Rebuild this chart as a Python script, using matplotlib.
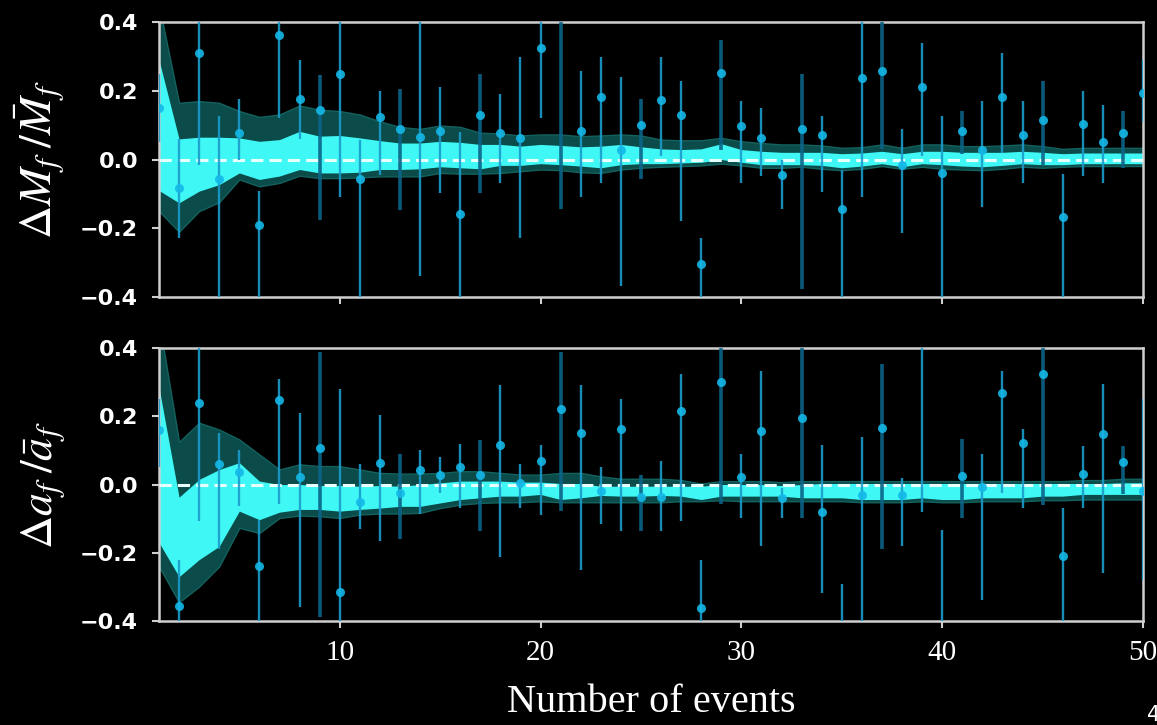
import matplotlib
matplotlib.use("Agg")
import matplotlib.pyplot as plt
import numpy as np

plt.rcParams["mathtext.fontset"] = "stix"

events = np.arange(1, 51)

# final mass: per-event estimate with lower/upper ends of its error bar
mass_val = [0.151, -0.082, 0.310, -0.058, 0.078, -0.189, 0.361, 0.177, 0.143, 0.249,
            -0.056, 0.124, 0.089, 0.066, 0.084, -0.158, 0.129, 0.078, 0.063, 0.325,
            0.420, 0.084, 0.182, 0.027, 0.100, 0.173, 0.131, -0.303, 0.252, 0.099,
            0.063, -0.046, 0.089, 0.070, -0.144, 0.238, 0.259, -0.017, 0.210, -0.039,
            0.082, 0.029, 0.182, 0.070, 0.116, -0.168, 0.102, 0.051, 0.078, 0.194]
mass_hi = [0.250, 0.060, 0.650, 0.128, 0.177, -0.092, 0.600, 0.289, 0.247, 0.600,
           0.058, 0.199, 0.206, 0.500, 0.210, 0.079, 0.249, 0.191, 0.298, 0.550,
           0.700, 0.259, 0.298, 0.240, 0.177, 0.298, 0.228, -0.228, 0.347, 0.170,
           0.150, 0.000, 0.249, 0.128, -0.030, 0.500, 0.500, 0.089, 0.339, 0.128,
           0.141, 0.170, 0.310, 0.170, 0.228, -0.042, 0.199, 0.158, 0.141, 0.291]
mass_lo = [0.050, -0.228, -0.015, -0.450, 0.000, -0.450, 0.121, 0.060, -0.176, -0.110,
           -0.450, -0.046, -0.147, -0.339, -0.097, -0.450, -0.097, -0.068, -0.228, 0.121,
           -0.145, -0.109, -0.068, -0.367, -0.058, 0.010, -0.179, -0.450, 0.029, -0.068,
           -0.048, -0.145, -0.376, -0.095, -0.450, -0.109, 0.030, -0.215, 0.010, -0.450,
           0.015, -0.138, 0.019, -0.068, -0.015, -0.450, -0.047, -0.068, -0.024, 0.108]

# cumulative bounds on the combined mass (90% outer, 68% inner)
mass_out_hi = [0.450, 0.165, 0.170, 0.165, 0.141, 0.124, 0.131, 0.157, 0.145, 0.141,
               0.131, 0.111, 0.095, 0.089, 0.099, 0.095, 0.078, 0.076, 0.070, 0.073,
               0.073, 0.068, 0.070, 0.073, 0.070, 0.058, 0.056, 0.056, 0.063, 0.053,
               0.048, 0.044, 0.044, 0.041, 0.034, 0.036, 0.044, 0.034, 0.044, 0.044,
               0.039, 0.039, 0.041, 0.044, 0.039, 0.031, 0.034, 0.034, 0.034, 0.034]
mass_in_hi = [0.290, 0.060, 0.065, 0.065, 0.063, 0.053, 0.058, 0.082, 0.068, 0.070,
              0.063, 0.055, 0.048, 0.048, 0.053, 0.050, 0.044, 0.044, 0.039, 0.044,
              0.041, 0.037, 0.039, 0.044, 0.037, 0.031, 0.029, 0.031, 0.046, 0.029,
              0.024, 0.021, 0.021, 0.021, 0.017, 0.019, 0.024, 0.017, 0.024, 0.024,
              0.021, 0.021, 0.021, 0.024, 0.021, 0.017, 0.019, 0.019, 0.019, 0.019]
mass_in_lo = [-0.090, -0.126, -0.092, -0.073, -0.039, -0.058, -0.048, -0.029, -0.039, -0.039,
              -0.037, -0.029, -0.029, -0.027, -0.021, -0.024, -0.027, -0.017, -0.017, -0.012,
              -0.015, -0.019, -0.024, -0.015, -0.012, -0.012, -0.010, -0.008, 0.000, -0.008,
              -0.015, -0.015, -0.015, -0.017, -0.024, -0.019, -0.012, -0.021, -0.012, -0.015,
              -0.019, -0.021, -0.017, -0.012, -0.015, -0.015, -0.012, -0.012, -0.012, -0.012]
mass_out_lo = [-0.150, -0.210, -0.150, -0.124, -0.058, -0.078, -0.068, -0.047, -0.054, -0.054,
               -0.052, -0.049, -0.049, -0.049, -0.039, -0.041, -0.041, -0.039, -0.034, -0.029,
               -0.031, -0.037, -0.039, -0.029, -0.024, -0.021, -0.019, -0.017, -0.012, -0.017,
               -0.024, -0.024, -0.021, -0.027, -0.031, -0.027, -0.019, -0.027, -0.021, -0.027,
               -0.029, -0.031, -0.027, -0.021, -0.024, -0.021, -0.019, -0.019, -0.019, -0.019]

# final spin
spin_val = [0.161, -0.357, 0.238, 0.059, 0.036, -0.238, 0.248, 0.023, 0.108, -0.315,
            -0.052, 0.064, -0.026, 0.044, 0.027, 0.052, 0.027, 0.115, 0.003, 0.069,
            0.220, 0.152, -0.020, 0.164, -0.036, -0.036, 0.215, -0.362, 0.299, 0.021,
            0.157, -0.039, 0.196, -0.081, -0.450, -0.030, 0.165, -0.031, 0.420, -0.450,
            0.024, -0.007, 0.269, 0.122, 0.323, -0.208, 0.031, 0.147, 0.066, -0.020]
spin_hi = [0.250, -0.220, 0.600, 0.152, 0.101, -0.103, 0.310, 0.211, 0.389, 0.281,
           0.061, 0.203, 0.088, 0.101, 0.081, 0.120, 0.130, 0.291, 0.059, 0.117,
           0.389, 0.291, 0.052, 0.252, 0.029, 0.069, 0.323, -0.220, 0.500, 0.088,
           0.333, -0.010, 0.500, 0.117, -0.291, 0.140, 0.352, 0.020, 0.600, -0.132,
           0.132, 0.088, 0.333, 0.162, 0.500, -0.069, 0.113, 0.294, 0.113, 0.250]
spin_lo = [0.050, -0.450, -0.108, -0.189, -0.064, -0.450, -0.056, -0.359, -0.387, -0.450,
           -0.130, -0.166, -0.160, -0.085, -0.024, -0.069, -0.137, -0.211, -0.069, -0.088,
           -0.078, -0.250, -0.117, -0.137, -0.137, -0.137, -0.108, -0.450, -0.056, -0.098,
           -0.179, -0.098, -0.098, -0.318, -0.600, -0.450, -0.189, -0.181, -0.081, -0.600,
           -0.098, -0.338, -0.024, -0.069, -0.059, -0.450, -0.069, -0.259, -0.029, -0.280]

spin_out_hi = [0.480, 0.125, 0.181, 0.161, 0.132, 0.088, 0.044, 0.059, 0.054, 0.054,
               0.044, 0.034, 0.032, 0.032, 0.034, 0.039, 0.039, 0.034, 0.029, 0.029,
               0.034, 0.034, 0.024, 0.017, 0.017, 0.017, 0.013, 0.003, 0.010, 0.010,
               0.010, 0.007, 0.010, 0.010, 0.010, 0.010, 0.010, 0.010, 0.010, 0.010,
               0.010, 0.010, 0.010, 0.010, 0.010, 0.010, 0.013, 0.013, 0.017, 0.017]
spin_in_hi = [0.285, -0.037, 0.015, 0.044, 0.064, 0.010, 0.000, 0.000, -0.003, -0.003,
              -0.005, -0.003, -0.005, 0.000, 0.005, 0.010, 0.010, 0.010, 0.007, 0.007,
              0.003, 0.003, -0.005, -0.005, -0.005, -0.005, -0.005, -0.005, 0.000, 0.000,
              0.000, -0.003, 0.000, 0.003, 0.003, 0.003, 0.003, 0.003, 0.003, 0.003,
              0.003, 0.003, 0.003, 0.003, 0.003, 0.003, 0.003, 0.003, 0.005, 0.005]
spin_in_lo = [-0.170, -0.270, -0.220, -0.181, -0.078, -0.103, -0.081, -0.073, -0.073, -0.078,
              -0.073, -0.069, -0.064, -0.064, -0.054, -0.044, -0.039, -0.034, -0.034, -0.029,
              -0.044, -0.039, -0.032, -0.034, -0.034, -0.032, -0.034, -0.044, -0.034, -0.034,
              -0.034, -0.034, -0.039, -0.039, -0.039, -0.044, -0.044, -0.044, -0.039, -0.044,
              -0.044, -0.039, -0.039, -0.039, -0.034, -0.034, -0.029, -0.029, -0.029, -0.029]
spin_out_lo = [-0.240, -0.345, -0.299, -0.240, -0.127, -0.142, -0.098, -0.091, -0.093, -0.098,
               -0.088, -0.085, -0.085, -0.083, -0.069, -0.059, -0.054, -0.052, -0.052, -0.049,
               -0.052, -0.052, -0.052, -0.052, -0.052, -0.052, -0.049, -0.049, -0.046, -0.049,
               -0.049, -0.049, -0.049, -0.049, -0.049, -0.052, -0.052, -0.052, -0.049, -0.052,
               -0.052, -0.049, -0.049, -0.049, -0.046, -0.046, -0.044, -0.044, -0.044, -0.044]

x_ticks = [10, 20, 30, 40, 50]
y_ticks = [-0.4, -0.2, 0.0, 0.2, 0.4]

BG = "black"
SPINE = "#cfcfcf"
OUTER = "#0b4b49"
INNER = "#3ff8f6"
DOT = "#14b8e8"
BAR = "#1a9ccc"
BAR_DARK = "#0b6488"


def draw_panel(ax, val, lo, hi, out_lo, in_lo, in_hi, out_hi):
    ax.set_facecolor(BG)
    ax.fill_between(events, out_lo, out_hi, color=OUTER, edgecolor="#13625f", linewidth=1, zorder=1)
    ax.fill_between(events, in_lo, in_hi, color=INNER, linewidth=0, zorder=2)
    ax.axhline(0.0, color="#e6ffff", linewidth=2.2, linestyle=(0, (4, 2)), zorder=3)

    val = np.asarray(val)
    yerr = np.vstack([val - np.asarray(lo), np.asarray(hi) - val])
    # every fourth event from the ninth is drawn with a heavier bar
    heavy = (events >= 9) & ((events - 9) % 4 == 0)
    for mask, ecol, lw in [(~heavy, BAR, 1.7), (heavy, BAR_DARK, 2.6)]:
        ax.errorbar(events[mask], val[mask], yerr=yerr[:, mask], fmt="o", color=DOT,
                    markersize=6.5, markeredgewidth=0, ecolor=ecol, elinewidth=lw,
                    capsize=0, alpha=0.9, zorder=4)

    ax.set_xlim(1, 50)
    ax.set_ylim(-0.4, 0.4)
    ax.set_xticks(x_ticks)
    ax.set_yticks(y_ticks)
    for side in ax.spines.values():
        side.set_color(SPINE)
        side.set_linewidth(1.8)
    ax.tick_params(direction="out", length=5, width=1.5, color=SPINE, labelcolor="white",
                   top=False, right=False)
    ax.tick_params(axis="y", pad=10)
    ax.tick_params(axis="x", pad=9)
    for lab in ax.get_yticklabels():
        lab.set_fontfamily("DejaVu Sans")
        lab.set_fontweight("bold")
        lab.set_fontsize(16)


fig = plt.figure(figsize=(11.57, 7.25), dpi=100, facecolor=BG)
ax1 = fig.add_axes([0.1374, 0.5903, 0.8505, 0.3793])
ax2 = fig.add_axes([0.1374, 0.1434, 0.8505, 0.3766], sharex=ax1)

draw_panel(ax1, mass_val, mass_lo, mass_hi, mass_out_lo, mass_in_lo, mass_in_hi, mass_out_hi)
draw_panel(ax2, spin_val, spin_lo, spin_hi, spin_out_lo, spin_in_lo, spin_in_hi, spin_out_hi)

ax1.tick_params(axis="x", labelbottom=False)
for lab in ax2.get_xticklabels():
    lab.set_fontfamily("Liberation Serif")
    lab.set_fontsize(21)

ax1.set_ylabel(r"$\Delta M_f\;/\bar{M}_f$", fontsize=33, color="white")
ax2.set_ylabel(r"$\Delta a_f\;/\bar{a}_f$", fontsize=33, color="white")
ax1.yaxis.set_label_coords(-0.092, 0.5)
ax2.yaxis.set_label_coords(-0.092, 0.5)

ax2.set_xlabel("Number of events", fontsize=29, color="white", fontfamily="Liberation Serif")
ax2.xaxis.set_label_coords(0.5, -0.232)

fig.text(1147 / 1157, 4 / 725, "4", fontsize=15, color="white", fontfamily="DejaVu Sans",
         ha="left", va="baseline")

fig.savefig("out.png", dpi=100, facecolor=BG)
